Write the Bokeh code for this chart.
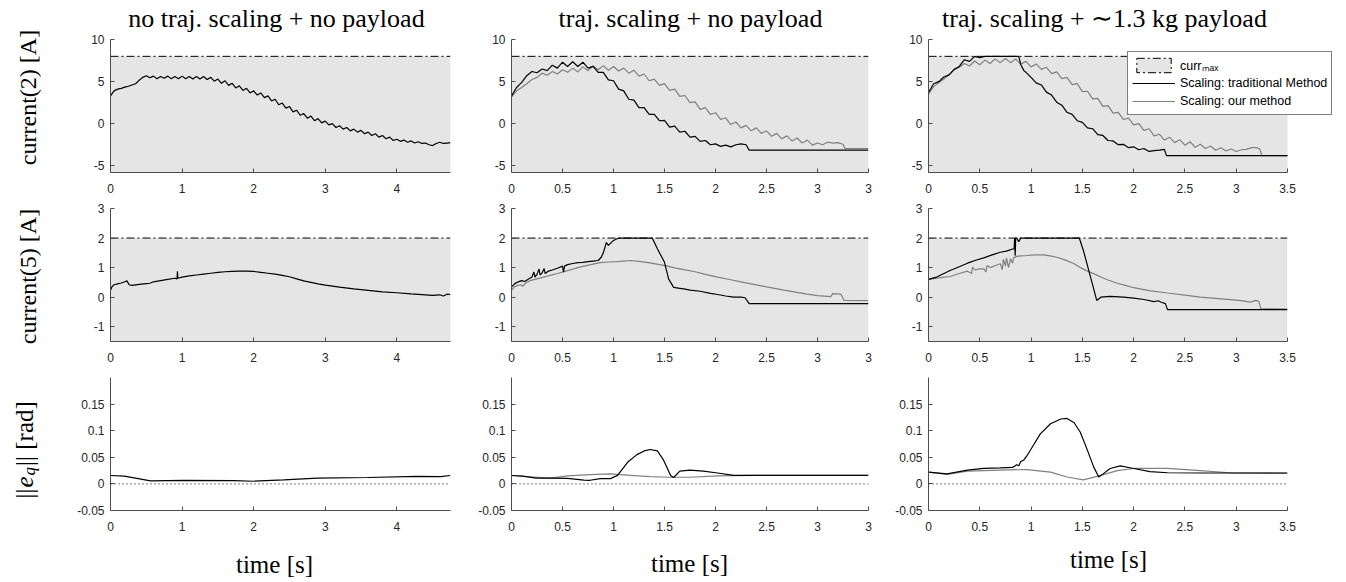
import numpy as np
from bokeh.plotting import figure
from bokeh.models import (Range1d, FixedTicker, Label, Legend, LegendItem, Span,
                          CustomJSTickFormatter)
from bokeh.layouts import column, row
from bokeh.embed import file_html
from bokeh.resources import INLINE

# ---------------------------------------------------------------- text
TITLES = ["no traj. scaling + no payload", "traj. scaling + no payload",
          "traj. scaling + \u223c1.3 kg payload"]
YLABELS = ["current(2) [A]", "current(5) [A]"]
XLABEL = "time [s]"
LEGEND_LABELS = ["curr\u2098\u2090\u2093", "Scaling: traditional Method", "Scaling: our method"]

# ---------------------------------------------------------------- axes
X_MAX = [4.75, 3.5, 3.5]
Y_LIM = [(-5.8, 10.0), (-1.5, 3.0), (-0.05, 0.2)]
CURR_MAX = [8.0, 2.0]
X_TICKS = [[0, 1, 2, 3, 4],
           [0, 0.5, 1, 1.5, 2, 2.5, 3, 3.5],
           [0, 0.5, 1, 1.5, 2, 2.5, 3, 3.5]]
X_TICK_OVERRIDES = [{}, {3.5: "3"}, {}]     # the middle column shows "3" at its last tick
Y_TICKS = [[-5, 0, 5, 10], [-1, 0, 1, 2, 3], [-0.05, 0, 0.05, 0.1, 0.15]]
ZERO_REF = 0.0

# ---------------------------------------------------------------- data
# row 1 : current(2)
cur2_noscale_t = np.round(np.arange(0, 4.76, 0.05), 2)
cur2_noscale = [3.3, 3.9, 4.1, 4.2, 4.35, 4.45, 4.6, 4.75, 5.15, 5.5,
                5.7, 5.45, 5.65, 5.35, 5.6, 5.4, 5.65, 5.35, 5.6, 5.35,
                5.65, 5.35, 5.6, 5.3, 5.6, 5.3, 5.6, 5.25, 5.5, 5.05,
                5.3, 4.8, 5.1, 4.55, 4.8, 4.25, 4.5, 3.95, 4.2, 3.65,
                3.9, 3.4, 3.65, 3.1, 3.3, 2.7, 2.9, 2.25, 2.45, 1.85,
                2.05, 1.4, 1.6, 1.0, 1.2, 0.65, 0.9, 0.35, 0.6, 0.1,
                0.3, -0.15, 0.0, -0.45, -0.25, -0.65, -0.45, -0.85, -0.65, -1.0,
                -0.8, -1.2, -1.0, -1.4, -1.2, -1.6, -1.4, -1.8, -1.6, -2.0,
                -1.85, -2.1, -1.95, -2.2, -2.05, -2.3, -2.15, -2.35, -2.3, -2.5,
                -2.6, -2.35, -2.2, -2.35, -2.3, -2.25]

cur2_scale_trad_t = list(np.round(np.arange(0, 2.301, 0.05), 2)) + [2.33, 3.5]
cur2_scale_trad = [3.3, 4.3, 4.9, 5.7, 6.2, 6.05, 6.5, 6.3, 6.95, 6.6,
                   7.3, 6.8, 7.35, 6.8, 7.3, 6.6, 6.8, 6.1, 6.1, 5.2,
                   5.1, 4.1, 3.9, 2.9, 2.8, 1.9, 1.9, 1.1, 1.1, 0.35,
                   0.4, -0.4, -0.3, -1.0, -0.9, -1.6, -1.5, -2.1, -2.0, -2.5,
                   -2.4, -2.7, -2.55, -2.75, -2.5, -2.4, -2.5,
                   -3.15, -3.15]

cur2_scale_ours_t = list(np.round(np.arange(0, 3.251, 0.05), 2)) + [3.27, 3.5]
cur2_scale_ours = [3.15, 3.9, 4.3, 4.75, 5.25, 5.5, 6.0, 5.75, 6.2, 5.9,
                   6.4, 6.1, 6.6, 6.15, 6.75, 6.3, 6.85, 6.4, 6.9, 6.35,
                   6.8, 6.25, 6.6, 6.0, 6.35, 5.65, 5.9, 5.1, 5.3, 4.55,
                   4.75, 3.95, 4.1, 3.25, 3.35, 2.5, 2.6, 1.7, 1.9, 1.1,
                   1.3, 0.5, 0.7, -0.1, 0.2, -0.5, -0.2, -0.85, -0.5, -1.15,
                   -0.85, -1.5, -1.15, -1.8, -1.45, -2.05, -1.7, -2.3, -1.95, -2.55,
                   -2.3, -2.5, -2.2, -2.3, -2.25, -2.45,
                   -2.95, -2.95]

cur2_load_trad_t = [0, 0.05, 0.1, 0.15, 0.2, 0.25, 0.3, 0.35, 0.4, 0.45, 0.5, 0.55,
                    0.88, 0.9, 0.93, 0.95,
                    1.0, 1.05, 1.1, 1.15, 1.2, 1.25, 1.3, 1.35, 1.4, 1.45,
                    1.5, 1.55, 1.6, 1.65, 1.7, 1.75, 1.8, 1.85, 1.9, 1.95,
                    2.0, 2.05, 2.1, 2.15, 2.2, 2.25, 2.3, 2.32, 3.5]
cur2_load_trad = [3.7, 4.75, 5.0, 5.55, 5.8, 6.45, 6.8, 7.6, 7.4, 8.0, 7.85, 8.0,
                  8.0, 7.0, 6.3, 6.1,
                  5.5, 4.85, 4.6, 3.75, 3.4, 2.55, 2.2, 1.35, 1.1, 0.35,
                  0.15, -0.5, -0.6, -1.3, -1.4, -2.0, -2.05, -2.5, -2.45, -2.85,
                  -2.75, -3.1, -2.95, -3.3, -3.2, -3.15, -3.05, -3.8, -3.8]

cur2_load_ours_t = list(np.round(np.arange(0, 3.201, 0.05), 2)) + [3.23, 3.25, 3.5]
cur2_load_ours = [3.5, 4.4, 4.85, 5.3, 5.8, 6.4, 6.7, 7.15, 6.85, 7.45,
                  7.0, 7.55, 7.15, 7.7, 7.25, 7.75, 7.25, 7.7, 7.05, 7.4,
                  6.75, 7.1, 6.45, 6.7, 5.95, 6.15, 5.35, 5.5, 4.65, 4.75,
                  3.8, 3.85, 2.95, 3.0, 2.05, 2.15, 1.25, 1.35, 0.5, 0.65,
                  -0.15, 0.0, -0.8, -0.6, -1.45, -1.25, -1.95, -1.6, -2.25, -1.9,
                  -2.55, -2.15, -2.8, -2.45, -2.95, -2.65, -3.15, -2.85, -3.25, -3.0,
                  -3.3, -3.1, -3.05, -2.85, -2.85,
                  -3.0, -3.8, -3.8]

# row 2 : current(5)
cur5_noscale_t = [0, 0.02, 0.05, 0.1, 0.15, 0.2, 0.23, 0.26, 0.3, 0.4,
                  0.5, 0.55, 0.6, 0.7, 0.8, 0.9, 0.93, 0.935, 0.94, 1.0,
                  1.1, 1.2, 1.3, 1.4, 1.5, 1.6, 1.7, 1.8, 1.9, 2.0,
                  2.1, 2.2, 2.3, 2.4, 2.5, 2.6, 2.7, 2.8, 2.9, 3.0,
                  3.2, 3.4, 3.6, 3.8, 4.0, 4.2, 4.4, 4.5, 4.6, 4.65, 4.7, 4.75]
cur5_noscale = [0.23, 0.35, 0.42, 0.45, 0.48, 0.52, 0.55, 0.42, 0.4, 0.43,
                0.46, 0.47, 0.52, 0.56, 0.6, 0.64, 0.62, 0.88, 0.64, 0.68,
                0.72, 0.75, 0.78, 0.81, 0.84, 0.86, 0.87, 0.88, 0.88, 0.87,
                0.84, 0.81, 0.78, 0.74, 0.69, 0.62, 0.55, 0.5, 0.45, 0.41,
                0.34, 0.28, 0.23, 0.18, 0.15, 0.11, 0.08, 0.06, 0.08, 0.04, 0.1, 0.09]

cur5_scale_trad_t = [0, 0.03, 0.06, 0.1, 0.13, 0.16, 0.2, 0.22, 0.23, 0.25,
                     0.27, 0.28, 0.3, 0.32, 0.33, 0.36, 0.4, 0.45, 0.5, 0.51,
                     0.52, 0.55, 0.6, 0.65, 0.7, 0.75, 0.8, 0.85, 0.88, 0.9,
                     0.93, 0.95, 0.97, 1.0, 1.05, 1.38, 1.43, 1.5, 1.54, 1.59,
                     1.65, 1.69, 1.75, 1.85, 1.95, 2.02, 2.1, 2.18, 2.25, 2.29,
                     2.33, 3.5]
cur5_scale_trad = [0.34, 0.45, 0.51, 0.56, 0.53, 0.6, 0.68, 0.85, 0.68, 0.77,
                   0.95, 0.75, 0.82, 0.97, 0.8, 0.88, 0.92, 0.98, 1.05, 0.85,
                   1.05, 1.1, 1.14, 1.17, 1.18, 1.2, 1.22, 1.24, 1.35, 1.5,
                   1.85, 1.75, 1.82, 1.92, 2.0, 2.0, 1.64, 1.18, 0.62, 0.33,
                   0.3, 0.28, 0.24, 0.2, 0.13, 0.09, 0.04, 0.0, 0.0, -0.02,
                   -0.22, -0.22]

cur5_scale_ours_t = [0, 0.03, 0.06, 0.09, 0.11, 0.14, 0.19, 0.25, 0.3, 0.38,
                     0.45, 0.55, 0.63, 0.71, 0.8, 0.87, 0.95, 1.04, 1.1, 1.17,
                     1.25, 1.36, 1.45, 1.53, 1.6, 1.69, 1.8, 1.9, 2.02, 2.15,
                     2.25, 2.35, 2.5, 2.67, 2.8, 2.9, 3.0, 3.13, 3.15, 3.23,
                     3.26, 3.5]
cur5_scale_ours = [0.23, 0.35, 0.4, 0.42, 0.37, 0.48, 0.57, 0.62, 0.66, 0.74,
                   0.8, 0.9, 0.98, 1.05, 1.12, 1.17, 1.19, 1.2, 1.22, 1.24,
                   1.21, 1.16, 1.1, 1.05, 0.99, 0.93, 0.86, 0.77, 0.68, 0.59,
                   0.52, 0.45, 0.35, 0.24, 0.16, 0.1, 0.05, 0.02, 0.12, 0.1,
                   -0.11, -0.12]

cur5_load_trad_t = [0, 0.08, 0.15, 0.21, 0.3, 0.38, 0.46, 0.54, 0.62, 0.7,
                    0.76, 0.82, 0.835, 0.84, 0.845, 0.85, 0.86, 0.88, 0.9, 1.47,
                    1.51, 1.58, 1.64, 1.68, 1.77, 1.9, 2.0, 2.1, 2.2, 2.24,
                    2.27, 2.31, 2.33, 3.5]
cur5_load_trad = [0.6, 0.68, 0.8, 0.9, 1.03, 1.15, 1.25, 1.33, 1.43, 1.52,
                  1.56, 1.63, 1.63, 2.0, 1.4, 2.0, 2.0, 1.88, 2.0, 2.0,
                  1.58, 0.68, -0.11, 0.0, 0.03, 0.0, -0.03, -0.08, -0.15, -0.12,
                  -0.17, -0.22, -0.42, -0.42]

cur5_load_ours_t = [0, 0.1, 0.21, 0.3, 0.38, 0.42, 0.43, 0.45, 0.5, 0.54,
                    0.56, 0.57, 0.6, 0.66, 0.7, 0.72, 0.73, 0.75, 0.76, 0.78,
                    0.8, 0.82, 0.83, 0.86, 0.9, 0.96, 1.04, 1.12, 1.2, 1.25,
                    1.33, 1.42, 1.48, 1.55, 1.62, 1.68, 1.75, 1.84, 1.92, 2.0,
                    2.15, 2.33, 2.5, 2.65, 2.8, 2.97, 3.05, 3.14, 3.19, 3.22,
                    3.24, 3.5]
cur5_load_ours = [0.6, 0.65, 0.7, 0.8, 0.88, 0.8, 1.02, 0.92, 0.96, 0.96,
                  0.85, 1.07, 1.0, 1.08, 1.13, 0.93, 1.28, 1.05, 1.33, 1.0,
                  1.3, 1.15, 1.33, 1.38, 1.4, 1.41, 1.43, 1.43, 1.39, 1.35,
                  1.26, 1.13, 1.0, 0.88, 0.78, 0.68, 0.58, 0.47, 0.4, 0.32,
                  0.22, 0.14, 0.07, 0.0, -0.04, -0.09, -0.12, -0.17, -0.11, -0.14,
                  -0.39, -0.4]

# row 3 : ||e_q||
eq_noscale_t = [0, 0.19, 0.33, 0.56, 1.02, 1.72, 2.0, 2.42, 2.89, 3.59, 4.28, 4.61, 4.75]
eq_noscale = [0.0158, 0.0147, 0.0113, 0.0057, 0.0068, 0.006, 0.005, 0.0075,
              0.011, 0.012, 0.014, 0.0135, 0.0158]

eq_scale_trad_t = [0, 0.11, 0.24, 0.38, 0.55, 0.71, 0.77, 0.87, 0.97, 1.04,
                   1.14, 1.23, 1.3, 1.36, 1.43, 1.49, 1.56, 1.59, 1.65, 1.75,
                   1.88, 2.02, 2.18, 2.34, 3.5]
eq_scale_trad = [0.0158, 0.0145, 0.011, 0.011, 0.0105, 0.007, 0.0068, 0.01, 0.01, 0.016,
                 0.041, 0.055, 0.062, 0.0647, 0.062, 0.045, 0.016, 0.012, 0.024, 0.026,
                 0.024, 0.0205, 0.016, 0.016, 0.016]

eq_scale_ours_t = [0, 0.22, 0.38, 0.55, 0.77, 0.97, 1.17, 1.36, 1.56, 1.75, 2.02, 2.35, 3.5]
eq_scale_ours = [0.0158, 0.013, 0.011, 0.015, 0.0175, 0.0188, 0.016, 0.0138,
                 0.0125, 0.0125, 0.015, 0.016, 0.016]

eq_load_trad_t = [0, 0.18, 0.38, 0.54, 0.7, 0.82, 0.86, 0.88, 0.9, 0.93,
                  0.96, 1.03, 1.09, 1.19, 1.29, 1.35, 1.42, 1.48, 1.55, 1.61,
                  1.66, 1.69, 1.77, 1.87, 2.0, 2.16, 2.33, 2.65, 3.5]
eq_load_trad = [0.022, 0.019, 0.026, 0.029, 0.030, 0.031, 0.036, 0.034, 0.042, 0.045,
                0.053, 0.075, 0.094, 0.113, 0.122, 0.123, 0.115, 0.097, 0.063, 0.032,
                0.013, 0.017, 0.029, 0.034, 0.029, 0.023, 0.021, 0.0205, 0.0205]

eq_load_ours_t = [0, 0.18, 0.38, 0.7, 0.96, 1.19, 1.35, 1.51, 1.68, 1.84, 2.0, 2.33, 2.65, 2.97, 3.5]
eq_load_ours = [0.022, 0.018, 0.024, 0.026, 0.027, 0.022, 0.013, 0.0075, 0.016,
                0.025, 0.029, 0.029, 0.025, 0.0205, 0.02]

BLACK = "#000000"
GRAY = "#808080"
PATCH_FILL = "#e5e5e5"
AXIS_COL = "#4d4d4d"
TICK_TEXT = "#262626"
SERIF = "Liberation Serif"
SANS = "Liberation Sans"
DASHDOT = "8 3 2 3"

SERIES = [
    [[(cur2_noscale_t, cur2_noscale, BLACK)],
     [(cur2_scale_ours_t, cur2_scale_ours, GRAY), (cur2_scale_trad_t, cur2_scale_trad, BLACK)],
     [(cur2_load_ours_t, cur2_load_ours, GRAY), (cur2_load_trad_t, cur2_load_trad, BLACK)]],
    [[(cur5_noscale_t, cur5_noscale, BLACK)],
     [(cur5_scale_ours_t, cur5_scale_ours, GRAY), (cur5_scale_trad_t, cur5_scale_trad, BLACK)],
     [(cur5_load_ours_t, cur5_load_ours, GRAY), (cur5_load_trad_t, cur5_load_trad, BLACK)]],
    [[(eq_noscale_t, eq_noscale, BLACK)],
     [(eq_scale_ours_t, eq_scale_ours, GRAY), (eq_scale_trad_t, eq_scale_trad, BLACK)],
     [(eq_load_ours_t, eq_load_ours, GRAY), (eq_load_trad_t, eq_load_trad, BLACK)]],
]

# ---------------------------------------------------------------- layout (px)
Y_STRIP_W = 68
TITLE_H = 32
X_STRIP_H = 43
FRAME_W = [340, 357, 359]
LEGEND_FRAME_W = 408          # top-right panel: frame widened so the legend is not clipped
BORDER_L = [42, 49, 48]
BORDER_R = [12, 12, 57]
FRAME_H = 133
BORDER_T = [7, 9, 9]
BORDER_B = [27, 27, 27]
INNER_W = sum(BORDER_L) + sum(FRAME_W) + sum(BORDER_R)
TOTAL_H = TITLE_H + 3 * FRAME_H + sum(BORDER_T) + sum(BORDER_B) + X_STRIP_H

fmt = CustomJSTickFormatter(code="return tick.toString();")


def style_axis(ax, ticks):
    ax.ticker = FixedTicker(ticks=ticks)
    ax.formatter = fmt
    ax.axis_line_color = AXIS_COL
    ax.axis_line_width = 1
    ax.major_tick_line_color = AXIS_COL
    ax.major_tick_line_width = 1
    ax.major_tick_in = 4
    ax.major_tick_out = 0
    ax.minor_tick_line_color = None
    ax.major_label_text_font = SANS
    ax.major_label_text_font_size = "12px"
    ax.major_label_text_color = TICK_TEXT


def text_strip(w, h):
    s = figure(frame_width=w, frame_height=h, x_range=Range1d(0, w), y_range=Range1d(0, h),
               min_border=0, output_backend="svg", toolbar_location=None, tools="")
    s.title.visible = False
    s.axis.visible = False
    s.grid.visible = False
    s.outline_line_color = None
    s.background_fill_color = "white"
    s.border_fill_color = "white"
    return s


rows = []
for r in range(3):
    figs = []
    for c in range(3):
        fw = FRAME_W[c]
        x_end = X_MAX[c]
        right = BORDER_R[c]
        if r == 0 and c == 2:
            fw = LEGEND_FRAME_W
            x_end = X_MAX[c] * LEGEND_FRAME_W / FRAME_W[c]
            right = BORDER_R[c] - (LEGEND_FRAME_W - FRAME_W[c])
        p = figure(frame_width=fw, frame_height=FRAME_H,
                   x_range=Range1d(0, x_end), y_range=Range1d(*Y_LIM[r]),
                   min_border_left=BORDER_L[c], min_border_right=right,
                   min_border_top=BORDER_T[r], min_border_bottom=BORDER_B[r],
                   output_backend="svg", toolbar_location=None, tools="")
        p.title.visible = False
        p.grid.visible = False
        p.outline_line_color = None
        p.background_fill_color = "white"
        p.border_fill_color = "white"
        style_axis(p.xaxis[0], X_TICKS[c])
        style_axis(p.yaxis[0], Y_TICKS[r])
        p.xaxis[0].major_label_overrides = X_TICK_OVERRIDES[c]
        p.xaxis[0].bounds = (0, X_MAX[c])
        p.xaxis[0].major_label_standoff = 11
        p.yaxis[0].major_label_standoff = 6

        legend_box = None
        if r < 2:
            p.quad(left=[0], right=[X_MAX[c]], bottom=[Y_LIM[r][0]], top=[CURR_MAX[r]],
                   fill_color=PATCH_FILL, line_color=None)
            p.line([0, X_MAX[c]], [CURR_MAX[r], CURR_MAX[r]], line_color=BLACK,
                   line_width=1, line_dash=DASHDOT)
            # zero-size box, only used to draw the legend swatch
            legend_box = p.quad(left=[0], right=[0], bottom=[Y_LIM[r][0]], top=[Y_LIM[r][0]],
                                fill_color=PATCH_FILL, line_color=BLACK,
                                line_width=1, line_dash=DASHDOT)
        else:
            p.add_layout(Span(location=ZERO_REF, dimension="width", line_color=BLACK,
                              line_width=1, line_dash="1 3"))
        rends = {}
        for (t, v, col) in SERIES[r][c]:
            rends[col] = p.line(list(t), list(v), line_color=col, line_width=1.2)

        if r == 0 and c == 2:
            legend = Legend(items=[LegendItem(label=LEGEND_LABELS[0], renderers=[legend_box]),
                                   LegendItem(label=LEGEND_LABELS[1], renderers=[rends[BLACK]]),
                                   LegendItem(label=LEGEND_LABELS[2], renderers=[rends[GRAY]])],
                            location=(199, 57), orientation="vertical",
                            glyph_width=43, glyph_height=18, label_height=18,
                            label_standoff=5, spacing=0, padding=4, margin=0,
                            label_text_font=SANS, label_text_font_size="12.5px",
                            label_text_color="black", border_line_color=BLACK,
                            border_line_width=0.8, background_fill_color="white",
                            background_fill_alpha=1.0)
            p.add_layout(legend)
        figs.append(p)
    rows.append(row(*figs, spacing=0))

# ---- column titles
title_strip = text_strip(INNER_W, TITLE_H)
for x, txt in zip([208, 622, 1036], TITLES):
    title_strip.add_layout(Label(x=x, y=14, x_units="screen", y_units="screen", text=txt,
                                 text_align="center", text_baseline="alphabetic",
                                 text_font=SERIF, text_font_size="26px", text_color="black"))

# ---- x labels
x_strip = text_strip(INNER_W, X_STRIP_H)
for x, y in zip([206, 621, 1040], [16, 17, 21]):
    x_strip.add_layout(Label(x=x, y=y, x_units="screen", y_units="screen", text=XLABEL,
                             text_align="center", text_baseline="alphabetic",
                             text_font=SERIF, text_font_size="25px", text_color="black"))

# ---- y labels
y_strip = text_strip(Y_STRIP_W, TOTAL_H)
for yc, txt in zip([TOTAL_H - 97, TOTAL_H - 276], YLABELS):
    y_strip.add_layout(Label(x=27, y=yc, x_units="screen", y_units="screen", text=txt,
                             angle=np.pi / 2, text_align="center", text_baseline="alphabetic",
                             text_font=SERIF, text_font_size="24px", text_color="black"))
y0 = TOTAL_H - 498
for txt, dy, fs, sty, dx in [("||", 0, "25px", "normal", 0),
                             ("e", 11, "25px", "italic", 0),
                             ("q", 23, "17px", "italic", 5),
                             ("|| [rad]", 32.5, "25px", "normal", 0)]:
    y_strip.add_layout(Label(x=24 + dx, y=y0 + dy, x_units="screen", y_units="screen",
                             text=txt, angle=np.pi / 2, text_align="left",
                             text_baseline="alphabetic", text_font=SERIF,
                             text_font_size=fs, text_font_style=sty, text_color="black"))

layout = row(y_strip, column(title_strip, *rows, x_strip, spacing=0), spacing=0)
open("out.html", "w").write(file_html(layout, INLINE))
